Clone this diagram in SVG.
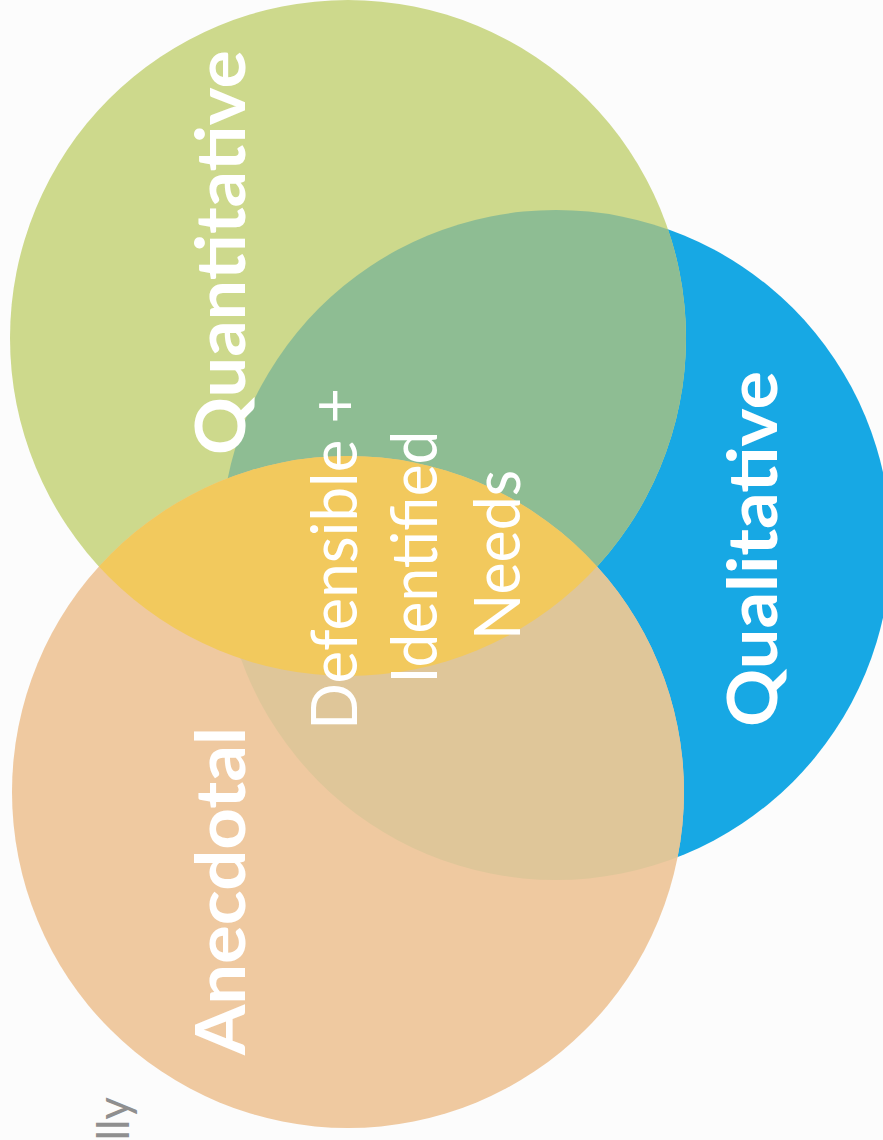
<svg xmlns="http://www.w3.org/2000/svg" width="883" height="1140" viewBox="0 0 883 1140">
  <style>
    .lbl { font-family: Lato, "Open Sans", "Liberation Sans", sans-serif; fill: #ffffff; }
    .bold { font-weight: 700; font-size: 68px; }
    .reg { font-weight: 400; font-size: 64px; text-anchor: middle; }
    .side { font-family: Lato, "Liberation Sans", Arial, sans-serif; font-size: 44px; fill: #8f8f8f; text-anchor: end; }
  </style>
  <defs>
    <clipPath id="clipBlue"><circle cx="556" cy="545" r="335"/></clipPath>
    <clipPath id="clipPeach"><circle cx="348" cy="792" r="336"/></clipPath>
  </defs>
  <rect x="0" y="0" width="883" height="1140" fill="#fcfcfc"/>

  <g id="qualitative">
    <circle cx="556" cy="545" r="335" fill="#17a8e4"/>
  </g>
  <g id="quantitative">
    <circle cx="348" cy="338" r="338" fill="#cdd98c"/>
  </g>
  <g id="anecdotal">
    <circle cx="348" cy="792" r="336" fill="#efc9a0"/>
  </g>
  <g id="overlaps">
    <circle cx="348" cy="338" r="338" fill="#8ebd93" clip-path="url(#clipBlue)"/>
    <circle cx="348" cy="792" r="336" fill="#dfc699" clip-path="url(#clipBlue)"/>
    <circle cx="348" cy="338" r="338" fill="#f2c95d" clip-path="url(#clipPeach)"/>
  </g>

  <g id="labels">
    <text class="lbl bold" transform="translate(245,455) rotate(-90)" textLength="405" lengthAdjust="spacingAndGlyphs">Quantitative</text>
    <text class="lbl bold" transform="translate(777,727) rotate(-90)" textLength="356" lengthAdjust="spacingAndGlyphs">Qualitative</text>
    <text class="lbl bold" transform="translate(245,1055) rotate(-90)" textLength="328" lengthAdjust="spacingAndGlyphs">Anecdotal</text>
  </g>
  <g id="center">
    <text class="lbl reg" transform="translate(357,559) rotate(-90)" textLength="342" lengthAdjust="spacingAndGlyphs">Defensible +</text>
    <text class="lbl reg" transform="translate(437,557) rotate(-90)" textLength="253" lengthAdjust="spacingAndGlyphs">Identified</text>
    <text class="lbl reg" transform="translate(520,555) rotate(-90)" textLength="170" lengthAdjust="spacingAndGlyphs">Needs</text>
  </g>
  <text class="side" transform="translate(129,1097) rotate(-90)">lly</text>
</svg>
